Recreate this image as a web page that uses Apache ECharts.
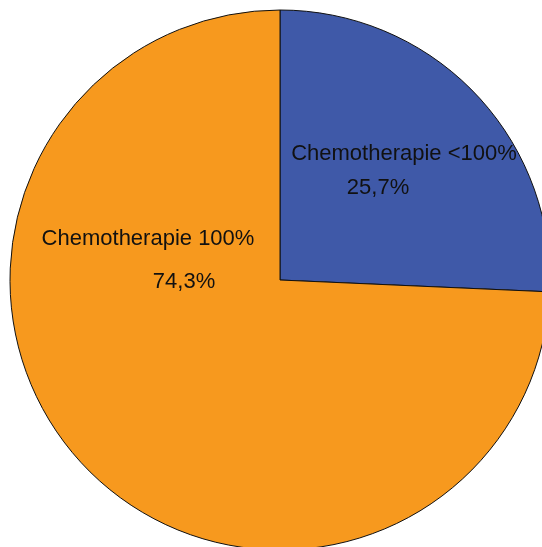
<!DOCTYPE html>
<html>
<head>
<meta charset="utf-8">
<script src="https://cdn.jsdelivr.net/npm/echarts@6/dist/echarts.min.js"></script>
<style>
html,body{margin:0;padding:0;background:#fff;}
#c{width:542px;height:547px;}
</style>
</head>
<body>
<div id="c"></div>
<script>
var categories = ['Chemotherapie <100%', 'Chemotherapie 100%'];
var values = [25.7, 74.3];
var valueLabels = ['25,7%', '74,3%'];
var colors = ['#3F59A8', '#F7991E'];

var chart = echarts.init(document.getElementById('c'), null, {renderer: 'canvas'});
var font = '"Liberation Sans", Arial, sans-serif';
function txt(s, x, y) {
  return {type: 'text', x: x, y: y, z: 100,
    style: {text: s, fill: '#111', font: '22px ' + font, textAlign: 'center', textVerticalAlign: 'middle'}};
}
chart.setOption({
  animation: false,
  backgroundColor: '#fff',
  series: [{
    type: 'pie',
    center: [280, 280],
    radius: [0, 270],
    startAngle: 90,
    clockwise: true,
    label: {show: false},
    labelLine: {show: false},
    emphasis: {disabled: true},
    itemStyle: {borderColor: '#111', borderWidth: 1},
    data: categories.map(function (c, i) {
      return {name: c, value: values[i], itemStyle: {color: colors[i]}};
    })
  }],
  graphic: [
    txt(categories[0], 404, 154),
    txt(valueLabels[0], 378, 188),
    txt(categories[1], 148, 239),
    txt(valueLabels[1], 184, 282)
  ]
});
</script>
</body>
</html>
